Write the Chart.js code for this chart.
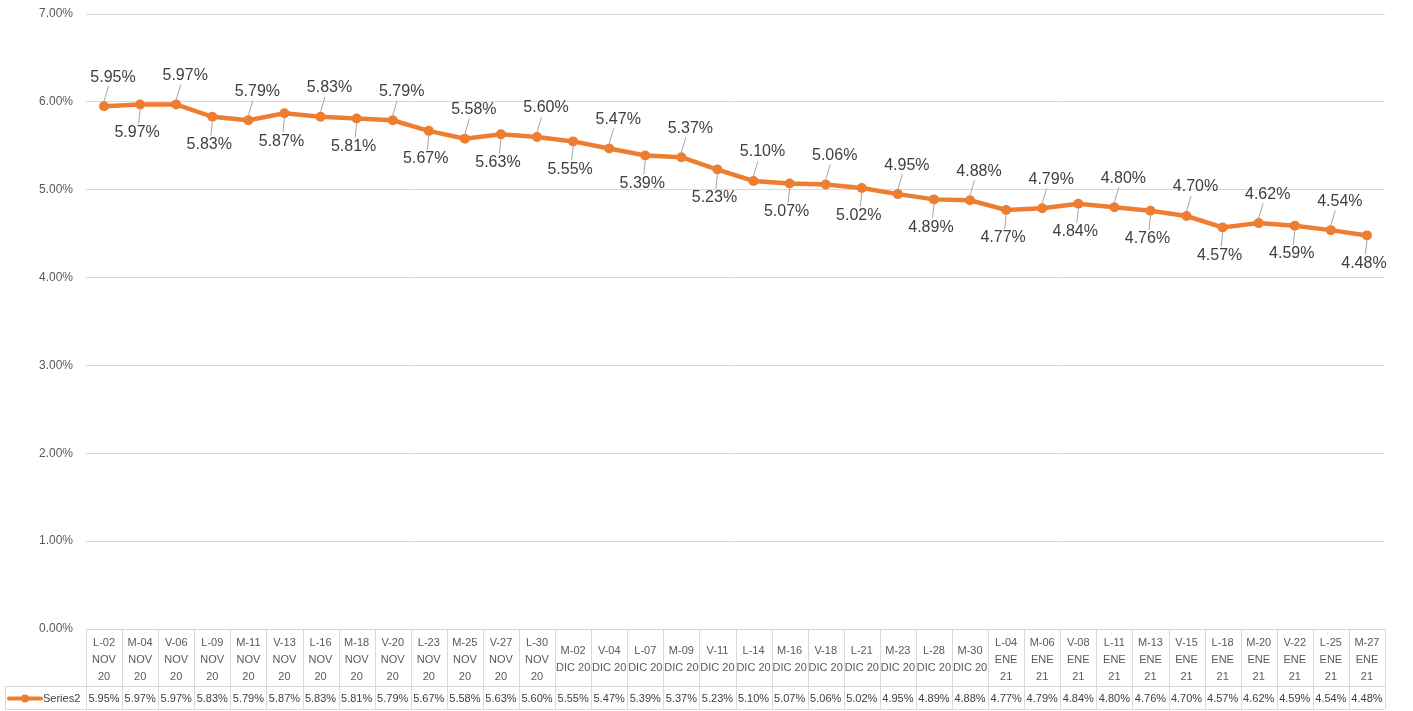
<!DOCTYPE html>
<html>
<head>
<meta charset="utf-8">
<script src="https://cdn.jsdelivr.net/npm/chart.js@4.4.1/dist/chart.umd.min.js"></script>
<style>
	html, body { margin: 0; padding: 0; background: #fff; }
</style>
</head>
<body>
<canvas id="myChart" width="1413" height="711"></canvas>
<script>
var categories = [
	['L-02', 'NOV', '20'], ['M-04', 'NOV', '20'], ['V-06', 'NOV', '20'], ['L-09', 'NOV', '20'],
	['M-11', 'NOV', '20'], ['V-13', 'NOV', '20'], ['L-16', 'NOV', '20'], ['M-18', 'NOV', '20'],
	['V-20', 'NOV', '20'], ['L-23', 'NOV', '20'], ['M-25', 'NOV', '20'], ['V-27', 'NOV', '20'],
	['L-30', 'NOV', '20'], ['M-02', 'DIC 20'], ['V-04', 'DIC 20'], ['L-07', 'DIC 20'],
	['M-09', 'DIC 20'], ['V-11', 'DIC 20'], ['L-14', 'DIC 20'], ['M-16', 'DIC 20'],
	['V-18', 'DIC 20'], ['L-21', 'DIC 20'], ['M-23', 'DIC 20'], ['L-28', 'DIC 20'],
	['M-30', 'DIC 20'], ['L-04', 'ENE', '21'], ['M-06', 'ENE', '21'], ['V-08', 'ENE', '21'],
	['L-11', 'ENE', '21'], ['M-13', 'ENE', '21'], ['V-15', 'ENE', '21'], ['L-18', 'ENE', '21'],
	['M-20', 'ENE', '21'], ['V-22', 'ENE', '21'], ['L-25', 'ENE', '21'], ['M-27', 'ENE', '21']
];
var series2 = [
	5.95, 5.97, 5.97, 5.83, 5.79, 5.87, 5.83, 5.81, 5.79, 5.67, 5.58, 5.63,
	5.60, 5.55, 5.47, 5.39, 5.37, 5.23, 5.10, 5.07, 5.06, 5.02, 4.95, 4.89,
	4.88, 4.77, 4.79, 4.84, 4.80, 4.76, 4.70, 4.57, 4.62, 4.59, 4.54, 4.48
];
var seriesName = 'Series2';
var yMin = 0;
var yMax = 7;
var yStep = 1;

var orange = '#ED7D31';
var gridGrey = '#d9d9d9';
var font = '"Liberation Sans", Arial, sans-serif';

function pct(v) {
	return v.toFixed(2) + '%';
}

/* labels alternate above / below the line, with grey leader lines */
var pointLabels = {
	id: 'pointLabels',
	afterDatasetsDraw: function(chart) {
		var ctx = chart.ctx;
		var meta = chart.getDatasetMeta(0);
		ctx.save();
		ctx.font = '16px ' + font;
		ctx.textAlign = 'center';
		ctx.textBaseline = 'middle';
		meta.data.forEach(function(pt, i) {
			var above = (i % 2 == 0);
			var lx = pt.x + (above ? 9 : -3);
			var ly = pt.y + (above ? -29 : 28);
			var edge = ly + (above ? 9 : -9);
			ctx.strokeStyle = '#a6a6a6';
			ctx.lineWidth = 1;
			ctx.beginPath();
			ctx.moveTo(pt.x, pt.y + (above ? -5 : 5));
			ctx.lineTo(pt.x + (lx - pt.x) * 0.5, edge);
			ctx.stroke();
			ctx.fillStyle = '#404040';
			ctx.fillText(pct(series2[i]), lx, ly);
		});
		ctx.restore();
	}
};

/* excel style data table under the plot */
var dataTable = {
	id: 'dataTable',
	afterDraw: function(chart) {
		var ctx = chart.ctx;
		var xs = chart.scales.x;
		var area = chart.chartArea;
		var n = categories.length;
		var cw = xs.getPixelForValue(1) - xs.getPixelForValue(0);
		var top = area.bottom;
		var mid = top + 57;
		var bot = 709;
		var legLeft = 5;

		ctx.save();
		ctx.strokeStyle = gridGrey;
		ctx.lineWidth = 1;
		ctx.beginPath();
		ctx.moveTo(area.left, top + 0.5); ctx.lineTo(area.right, top + 0.5);
		ctx.moveTo(legLeft, mid + 0.5); ctx.lineTo(area.right, mid + 0.5);
		ctx.moveTo(legLeft, bot + 0.5); ctx.lineTo(area.right, bot + 0.5);
		ctx.moveTo(legLeft + 0.5, mid); ctx.lineTo(legLeft + 0.5, bot);
		for (var i = 0; i <= n; i++) {
			var bx = Math.round(xs.getPixelForValue(0) - cw / 2 + i * cw) + 0.5;
			ctx.moveTo(bx, top); ctx.lineTo(bx, bot);
		}
		ctx.stroke();

		ctx.font = '11px ' + font;
		ctx.textAlign = 'center';
		ctx.textBaseline = 'middle';
		var lh = 17;
		var cy = (top + mid) / 2 + 2;
		for (var i = 0; i < n; i++) {
			var cx = xs.getPixelForValue(i);
			var lines = categories[i];
			var y0 = cy - (lines.length - 1) * lh / 2;
			ctx.fillStyle = '#595959';
			lines.forEach(function(t, k) {
				ctx.fillText(t, cx, y0 + k * lh);
			});
			ctx.fillStyle = '#404040';
			ctx.fillText(pct(series2[i]), cx, (mid + bot) / 2 + 1);
		}

		/* legend key */
		var ky = (mid + bot) / 2 + 1;
		ctx.strokeStyle = orange;
		ctx.lineWidth = 4;
		ctx.lineCap = 'round';
		ctx.beginPath();
		ctx.moveTo(9, ky); ctx.lineTo(41, ky);
		ctx.stroke();
		ctx.fillStyle = orange;
		ctx.beginPath();
		ctx.arc(25, ky, 4, 0, Math.PI * 2);
		ctx.fill();
		ctx.fillStyle = '#404040';
		ctx.textAlign = 'left';
		ctx.fillText(seriesName, 43, ky);
		ctx.restore();
	}
};

var ctx = document.getElementById('myChart').getContext('2d');
var graph = new Chart(ctx, {
	type: 'line',
	data: {
		labels: categories,
		datasets: [{
			label: seriesName,
			data: series2,
			borderColor: orange,
			backgroundColor: orange,
			borderWidth: 4.5,
			pointRadius: 5,
			pointBorderWidth: 0,
			pointBackgroundColor: orange,
			fill: false,
			tension: 0
		}]
	},
	options: {
		responsive: false,
		animation: false,
		devicePixelRatio: 1,
		layout: {
			padding: { top: 14, right: 28, bottom: 82, left: 0 }
		},
		plugins: {
			legend: { display: false },
			tooltip: { enabled: false }
		},
		scales: {
			x: {
				display: false,
				offset: true
			},
			y: {
				min: yMin,
				max: yMax,
				border: { display: false },
				grid: { color: gridGrey, drawTicks: true, tickLength: 13, tickColor: 'rgba(0,0,0,0)' },
				ticks: {
					stepSize: yStep,
					padding: 0,
					color: '#595959',
					font: { family: font, size: 12 },
					callback: function(v) { return pct(v); }
				},
				afterFit: function(scale) { scale.width = 86; }
			}
		}
	},
	plugins: [pointLabels, dataTable]
});
</script>
</body>
</html>
